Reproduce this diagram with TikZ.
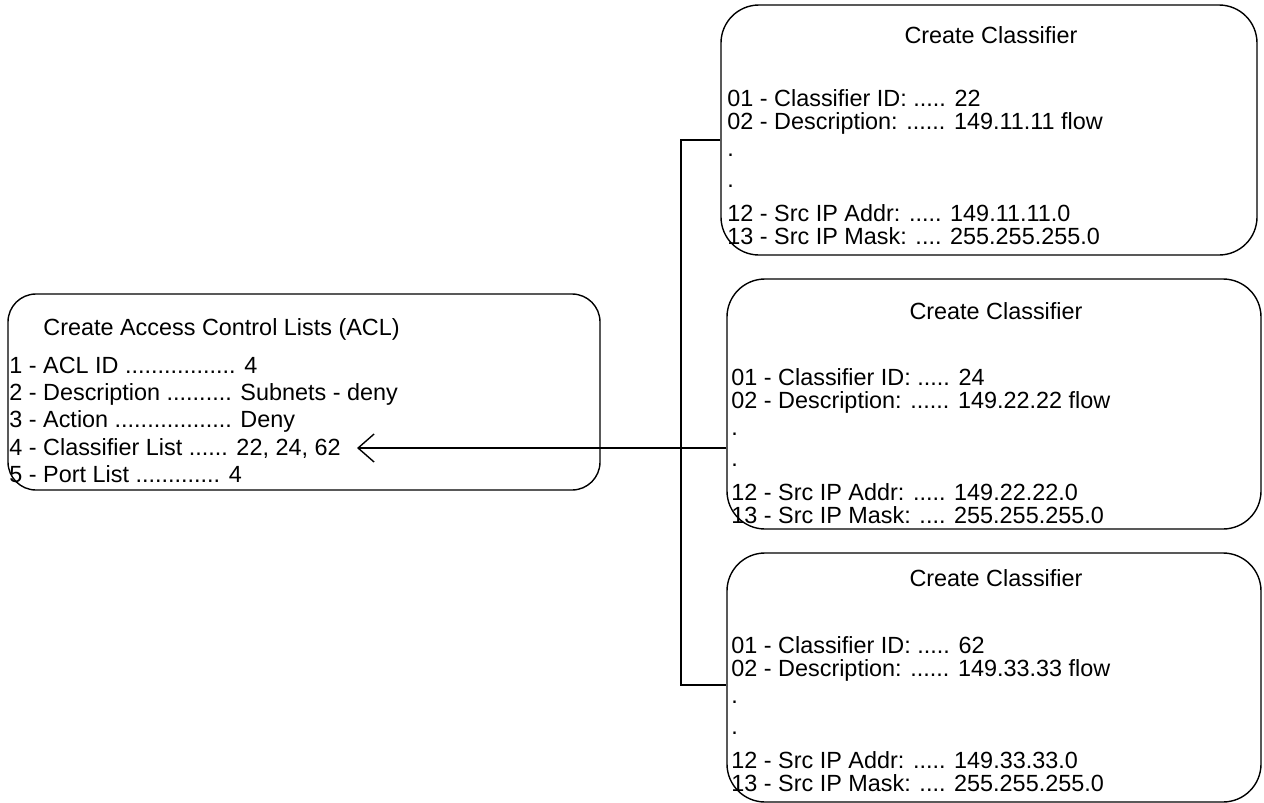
\documentclass[tikz,border=0pt]{standalone}
\usepackage{fontspec}
\setmainfont{Liberation Sans}
\usetikzlibrary{arrows.meta}

\begin{document}
\begin{tikzpicture}[x=0.5pt,y=-0.5pt,
    box/.style={draw=black,line width=0.7pt,rounded corners=19pt,inner sep=0pt},
    aclbox/.style={draw=black,line width=0.7pt,rounded corners=14pt,inner sep=0pt},
    txt/.style={inner sep=0pt,font=\fontsize{11.7pt}{11.5pt}\selectfont},
    link/.style={draw=black,line width=0.7pt},
    arr/.style={draw=black,line width=0.7pt,-{Straight Barb[length=8pt,width=14pt,line width=0.7pt]}}]
    \useasboundingbox (0,0) rectangle (1264,803);

    \node[aclbox,minimum width=296pt,minimum height=98pt] (acl) at (304,392) {};
    \node[txt,anchor=base west] (acltitle) at (43,335) {Create Access Control Lists (ACL)};
    \node[txt,anchor=base west] (acl1) at (9,373) {1 - ACL ID ................. 4};
    \node[txt,anchor=base west] (acl2) at (9,400) {2 - Description .......... Subnets - deny};
    \node[txt,anchor=base west] (acl3) at (9,427) {3 - Action .................. Deny};
    \node[txt,anchor=base west] (acl4) at (9,455) {4 - Classifier List ...... 22, 24, 62};
    \node[txt,anchor=base west] (acl5) at (9,482) {5 - Port List ............. 4};

    \node[box,minimum width=268pt,minimum height=125pt] (cls1) at (989,130) {};
    \node[txt,anchor=base] (title1) at (991,43) {Create Classifier};
    \node[txt,anchor=north west,align=left] (body1) at (727,89) {01 - Classifier ID: ..... 22\\02 - Description: ...... 149.11.11 flow\\[2pt].\\[4pt].\\[5.5pt]12 - Src IP Addr: ..... 149.11.11.0\\13 - Src IP Mask: .... 255.255.255.0};

    \node[box,minimum width=267pt,minimum height=125pt] (cls2) at (994,404) {};
    \node[txt,anchor=base] (title2) at (996,319) {Create Classifier};
    \node[txt,anchor=north west,align=left] (body2) at (731,368) {01 - Classifier ID: ..... 24\\02 - Description: ...... 149.22.22 flow\\[2pt].\\[4pt].\\[5.5pt]12 - Src IP Addr: ..... 149.22.22.0\\13 - Src IP Mask: .... 255.255.255.0};

    \node[box,minimum width=267pt,minimum height=124.5pt] (cls3) at (994,677.5) {};
    \node[txt,anchor=base] (title3) at (996,586) {Create Classifier};
    \node[txt,anchor=north west,align=left] (body3) at (731,636) {01 - Classifier ID: ..... 62\\02 - Description: ...... 149.33.33 flow\\[2pt].\\[4pt].\\[5.5pt]12 - Src IP Addr: ..... 149.33.33.0\\13 - Src IP Mask: .... 255.255.255.0};

    \coordinate (top) at (681,140);
    \coordinate (bottom) at (681,685);
    \path[link] (cls1.west |- top) -- (top) -- (bottom) -- (cls3.west |- bottom);
    \path[arr,shorten >=8pt] (cls2.west |- acl4) -- (acl4.east);
\end{tikzpicture}
\end{document}
